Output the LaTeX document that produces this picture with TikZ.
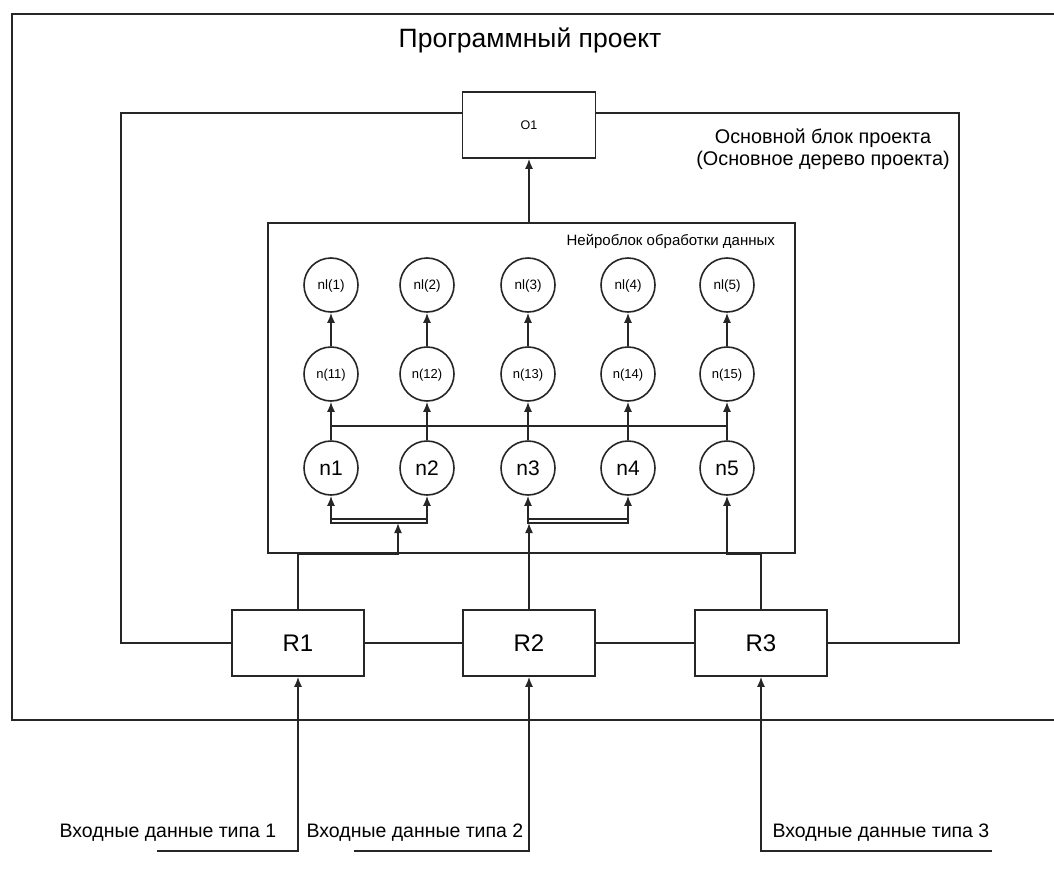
\documentclass[tikz,border=0pt]{standalone}
\usepackage{fontspec}
\setmainfont{Liberation Sans}
\usetikzlibrary{arrows.meta}
\tikzset{
  blk/.style={draw,minimum width=132pt,minimum height=66pt,inner sep=0pt},
  neur/.style={draw,circle,minimum size=54pt,inner sep=0pt,text depth=0pt},
  fs/.style={font=\fontsize{#1}{#1}\selectfont},
  arr/.style={-{Latex[length=10pt,width=8pt]}},
}
\begin{document}
\begin{tikzpicture}[x=1pt,y=-1pt,line width=1.6pt,draw=black!85]
  \useasboundingbox (0,0) rectangle (1054,875);
  \draw[line width=2pt] (1060,14) -- (12,14) -- (12,720) -- (1060,720);
  \node[fs=26.5] (title) at (530,40) {Программный проект};

  \node[blk,minimum width=133pt,fs=12.5] (o1) at (529,125) {O1};
  \node[blk,fs=24] (r1) at (298,643) {R1};
  \node[blk,fs=24] (r2) at (529,643) {R2};
  \node[blk,fs=24] (r3) at (761,643) {R3};
  \node[align=center,fs=19.8,text depth=0pt] (mainlbl) at (823,147) {Основной блок проекта\\[2pt](Основное дерево проекта)};

  \coordinate (mtl) at (121,113);
  \coordinate (mbr) at (959,643);
  \draw (o1.west |- mtl) -- (mtl) |- (r1.west);
  \draw (r1.east) -- (r2.west) (r2.east) -- (r3.west);
  \draw (r3.east) -- (mbr) |- (o1.east |- mtl);

  \node[draw,minimum width=527pt,minimum height=330pt,inner sep=0pt] (nb) at (531.5,388) {};
  \node[anchor=east,fs=15] (nblbl) at (779,241) {Нейроблок обработки данных};
  \draw[arr] (o1.south |- nb.north) -- (o1.south);

  \foreach \i/\x in {1/331,2/427,3/528,4/628,5/727} {
    \node[neur,fs=13.5] (nl\i) at (\x,285) {nl(\i)};
    \node[neur,fs=13] (m\i) at (\x,374) {n(1\i)};
    \node[neur,fs=21] (n\i) at (\x,468) {n\i};
    \draw[arr] (m\i) -- (nl\i);
    \draw[arr] (n\i) -- (m\i);
  }
  \coordinate (bus) at (0,426);
  \draw (n1 |- bus) -- (n5 |- bus);

  \coordinate (j1) at (398,523);
  \coordinate (j2) at (529,523);
  \coordinate (dl) at (0,519);
  \draw (n1 |- dl) rectangle (n2 |- j1);
  \draw (n3 |- dl) rectangle (n4 |- j2);
  \draw[arr] (n1 |- dl) -- (n1.south);
  \draw[arr] (n2 |- dl) -- (n2.south);
  \draw[arr] (n3 |- dl) -- (n3.south);
  \draw[arr] (n4 |- dl) -- (n4.south);
  \draw[arr] (r1.north) |- (nb.south -| j1) -- (j1);
  \draw[arr] (r2.north) -- (j2);
  \draw[arr] (r3.north) |- (nb.south -| n5) -- (n5.south);

  \node[fs=19.5] (in1) at (168,833) {Входные данные типа 1};
  \node[fs=19.5] (in2) at (415,833) {Входные данные типа 2};
  \node[fs=19.5] (in3) at (881,833) {Входные данные типа 3};
  \coordinate (u1) at (157,851);
  \coordinate (u2) at (354,851);
  \coordinate (u3) at (992,851);
  \draw[arr] (u1) -- (u1 -| r1) -- (r1.south);
  \draw[arr] (u2) -- (u2 -| r2) -- (r2.south);
  \draw[arr] (u3) -- (u3 -| r3) -- (r3.south);
\end{tikzpicture}
\end{document}
